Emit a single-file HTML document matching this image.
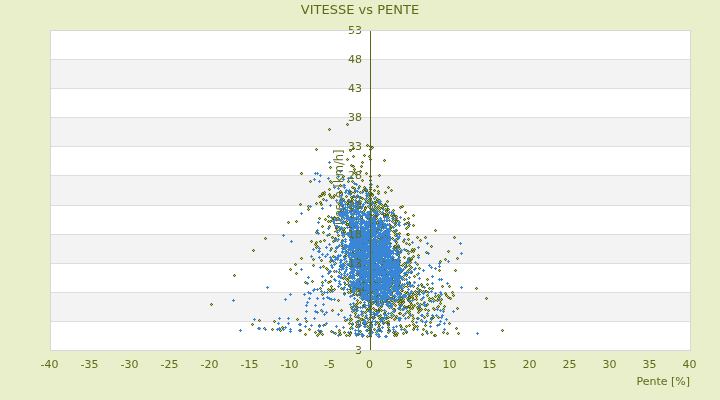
<!DOCTYPE html>
<html><head><meta charset="utf-8"><title>VITESSE vs PENTE</title>
<style>html,body{margin:0;padding:0;background:#e9efcb;width:720px;height:400px;overflow:hidden}</style>
</head><body>
<svg width="720" height="400" viewBox="0 0 720 400" style="display:block">
<rect x="0" y="0" width="720" height="400" fill="#e9efcb"/><rect x="50" y="30" width="640" height="29" fill="#ffffff"/><rect x="50" y="59" width="640" height="29" fill="#f3f3f3"/><rect x="50" y="88" width="640" height="29" fill="#ffffff"/><rect x="50" y="117" width="640" height="29" fill="#f3f3f3"/><rect x="50" y="146" width="640" height="29" fill="#ffffff"/><rect x="50" y="175" width="640" height="30" fill="#f3f3f3"/><rect x="50" y="205" width="640" height="29" fill="#ffffff"/><rect x="50" y="234" width="640" height="29" fill="#f3f3f3"/><rect x="50" y="263" width="640" height="29" fill="#ffffff"/><rect x="50" y="292" width="640" height="29" fill="#f3f3f3"/><rect x="50" y="321" width="640" height="29" fill="#ffffff"/><rect x="50" y="59" width="640" height="1" fill="#dedede"/><rect x="50" y="88" width="640" height="1" fill="#dedede"/><rect x="50" y="117" width="640" height="1" fill="#dedede"/><rect x="50" y="146" width="640" height="1" fill="#dedede"/><rect x="50" y="175" width="640" height="1" fill="#dedede"/><rect x="50" y="205" width="640" height="1" fill="#dedede"/><rect x="50" y="234" width="640" height="1" fill="#dedede"/><rect x="50" y="263" width="640" height="1" fill="#dedede"/><rect x="50" y="292" width="640" height="1" fill="#dedede"/><rect x="50" y="321" width="640" height="1" fill="#dedede"/><text transform="translate(343,191) rotate(-90)" text-anchor="middle" font-family="DejaVu Sans, sans-serif" font-size="11.5" fill="#5f6a17">Vitesse [km/h]</text><defs>
<marker id="mb" markerUnits="userSpaceOnUse" markerWidth="3" markerHeight="3" viewBox="0 0 3 3" refX="1.5" refY="1.5" orient="0" overflow="visible">
<path d="M0 1h3v1h-3zM1 0h1v3h-1z" fill="#3a86d6"/></marker>
<marker id="mo" markerUnits="userSpaceOnUse" markerWidth="3" markerHeight="3" viewBox="0 0 3 3" refX="1.5" refY="1.5" orient="0" overflow="visible">
<path d="M0 0h1v1h-1zM2 0h1v1h-1zM0 2h1v1h-1zM2 2h1v1h-1z" fill="#56620f" fill-opacity="0.15"/><path d="M0 1h1v1h-1zM2 1h1v1h-1zM1 0h1v1h-1zM1 2h1v1h-1z" fill="#56620f"/><path d="M1 1h1v1h-1z" fill="#bcd266"/></marker>
</defs><path d="M388.5 327.5 370.5 231.5 368.5 295.5 343.5 211.5 371.5 275.5 367.5 322.5 364.5 297.5 363.5 248.5 371.5 237.5 370.5 324.5 369.5 253.5 358.5 244.5 350.5 258.5 370.5 242.5 377.5 295.5 282.5 327.5 422.5 286.5 385.5 314.5 412.5 315.5 391.5 252.5 381.5 288.5 390.5 274.5 439.5 296.5 367.5 279.5 381.5 253.5 365.5 237.5 211.5 304.5 382.5 240.5 350.5 318.5 414.5 282.5 338.5 300.5 380.5 208.5 370.5 264.5 385.5 247.5 398.5 295.5 379.5 211.5 368.5 240.5 355.5 243.5 355.5 308.5 372.5 268.5 370.5 254.5 357.5 307.5 371.5 259.5 343.5 208.5 364.5 249.5 417.5 264.5 389.5 273.5 396.5 250.5 354.5 264.5 412.5 297.5 420.5 290.5 391.5 215.5 382.5 320.5 354.5 240.5 388.5 296.5 365.5 249.5 376.5 299.5 351.5 220.5 340.5 185.5 363.5 234.5 346.5 335.5 438.5 306.5 413.5 251.5 417.5 237.5 356.5 326.5 351.5 201.5 379.5 330.5 352.5 181.5 370.5 222.5 370.5 234.5 404.5 329.5 370.5 232.5 337.5 240.5 397.5 333.5 362.5 274.5 409.5 313.5 346.5 224.5 363.5 190.5 342.5 232.5 358.5 282.5 365.5 223.5 407.5 298.5 386.5 322.5 346.5 251.5 387.5 201.5 413.5 225.5 351.5 241.5 405.5 292.5 354.5 241.5 427.5 279.5 370.5 149.5 372.5 252.5 353.5 221.5 408.5 226.5 397.5 260.5 361.5 285.5 376.5 223.5 365.5 227.5 391.5 279.5 344.5 216.5 362.5 263.5 345.5 233.5 375.5 223.5 379.5 325.5 362.5 249.5 381.5 245.5 399.5 302.5 379.5 175.5 330.5 261.5 418.5 255.5 362.5 287.5 409.5 325.5 308.5 209.5 368.5 292.5 363.5 227.5 350.5 230.5 370.5 296.5 361.5 218.5 449.5 286.5 353.5 231.5 374.5 252.5 379.5 246.5 321.5 195.5 367.5 246.5 361.5 222.5 374.5 221.5 371.5 297.5 352.5 239.5 386.5 265.5 324.5 194.5 408.5 222.5 374.5 248.5 386.5 239.5 385.5 227.5 371.5 272.5 365.5 207.5 351.5 206.5 420.5 240.5 321.5 260.5 434.5 300.5 382.5 236.5 329.5 234.5 380.5 319.5 388.5 323.5 368.5 239.5 336.5 228.5 349.5 249.5 330.5 291.5 365.5 323.5 374.5 220.5 388.5 290.5 312.5 281.5 376.5 229.5 417.5 326.5 375.5 267.5 394.5 273.5 391.5 258.5 409.5 244.5 388.5 280.5 377.5 243.5 321.5 204.5 354.5 284.5 385.5 214.5 388.5 297.5 370.5 291.5 378.5 191.5 350.5 286.5 324.5 192.5 370.5 336.5 351.5 257.5 383.5 283.5 355.5 227.5 382.5 207.5 380.5 295.5 391.5 285.5 386.5 300.5 440.5 261.5 367.5 336.5 356.5 257.5 353.5 287.5 370.5 243.5 352.5 260.5 370.5 193.5 387.5 251.5 383.5 295.5 370.5 202.5 385.5 266.5 328.5 216.5 390.5 277.5 394.5 215.5 386.5 292.5 381.5 248.5 370.5 222.5 367.5 288.5 373.5 260.5 378.5 334.5 386.5 267.5 353.5 238.5 352.5 324.5 350.5 231.5 353.5 241.5 372.5 271.5 370.5 271.5 411.5 259.5 343.5 176.5 335.5 263.5 457.5 258.5 378.5 305.5 343.5 236.5 422.5 292.5 353.5 286.5 388.5 213.5 374.5 314.5 398.5 246.5 341.5 288.5 365.5 247.5 410.5 308.5 373.5 318.5 352.5 288.5 383.5 259.5 360.5 293.5 368.5 250.5 370.5 234.5 381.5 247.5 413.5 294.5 370.5 242.5 370.5 275.5 351.5 229.5 366.5 173.5 367.5 239.5 383.5 273.5 378.5 310.5 396.5 216.5 378.5 224.5 380.5 220.5 377.5 302.5 380.5 236.5 392.5 262.5 382.5 275.5 328.5 221.5 351.5 260.5 377.5 284.5 409.5 258.5 369.5 265.5 391.5 227.5 404.5 219.5 396.5 246.5 360.5 297.5 353.5 214.5 402.5 277.5 365.5 208.5 372.5 265.5 345.5 284.5 370.5 297.5 362.5 253.5 367.5 290.5 390.5 230.5 399.5 299.5 326.5 268.5 380.5 317.5 359.5 245.5 376.5 201.5 350.5 202.5 333.5 241.5 300.5 204.5 353.5 260.5 389.5 261.5 384.5 238.5 353.5 237.5 377.5 207.5 379.5 254.5 343.5 229.5 319.5 333.5 452.5 292.5 370.5 307.5 360.5 280.5 373.5 308.5 361.5 319.5 398.5 285.5 359.5 263.5 332.5 237.5 372.5 269.5 320.5 202.5 350.5 289.5 354.5 224.5 378.5 273.5 364.5 238.5 356.5 259.5 419.5 268.5 359.5 186.5 416.5 299.5 370.5 279.5 351.5 220.5 374.5 268.5 370.5 233.5 356.5 205.5 400.5 309.5 354.5 223.5 439.5 270.5 383.5 243.5 401.5 271.5 409.5 296.5 417.5 288.5 391.5 260.5 418.5 312.5 346.5 221.5 368.5 253.5 403.5 301.5 412.5 285.5 323.5 266.5 399.5 287.5 345.5 202.5 435.5 230.5 362.5 289.5 351.5 259.5 443.5 332.5 355.5 316.5 445.5 259.5 370.5 240.5 399.5 248.5 352.5 238.5 382.5 304.5 411.5 304.5 371.5 289.5 363.5 291.5 385.5 231.5 366.5 237.5 334.5 217.5 369.5 225.5 351.5 261.5 350.5 281.5 352.5 187.5 369.5 296.5 388.5 233.5 296.5 273.5 385.5 311.5 361.5 276.5 383.5 243.5 387.5 269.5 370.5 285.5 351.5 202.5 363.5 269.5 396.5 335.5 396.5 283.5 407.5 283.5 325.5 219.5 382.5 272.5 361.5 282.5 357.5 206.5 386.5 274.5 348.5 181.5 378.5 254.5 359.5 280.5 364.5 271.5 407.5 234.5 363.5 247.5 334.5 271.5 342.5 267.5 399.5 265.5 354.5 283.5 362.5 282.5 388.5 302.5 370.5 270.5 382.5 263.5 369.5 241.5 370.5 234.5 381.5 283.5 366.5 271.5 376.5 230.5 363.5 248.5 381.5 287.5 370.5 285.5 354.5 283.5 358.5 250.5 382.5 265.5 361.5 254.5 392.5 270.5 393.5 298.5 370.5 276.5 454.5 237.5 351.5 319.5 373.5 291.5 399.5 260.5 364.5 321.5 396.5 316.5 394.5 278.5 355.5 257.5 376.5 292.5 369.5 201.5 448.5 297.5 408.5 234.5 391.5 267.5 344.5 228.5 381.5 268.5 363.5 273.5 381.5 297.5 381.5 303.5 382.5 243.5 389.5 307.5 388.5 330.5 378.5 220.5 364.5 290.5 354.5 172.5 407.5 286.5 376.5 284.5 347.5 124.5 394.5 335.5 401.5 327.5 353.5 251.5 372.5 317.5 393.5 289.5 354.5 188.5 385.5 255.5 401.5 297.5 350.5 263.5 414.5 305.5 334.5 195.5 356.5 304.5 356.5 263.5 397.5 250.5 370.5 269.5 331.5 286.5 370.5 305.5 382.5 280.5 397.5 251.5 399.5 283.5 333.5 218.5 372.5 194.5 394.5 299.5 377.5 299.5 351.5 267.5 453.5 295.5 363.5 220.5 358.5 245.5 376.5 218.5 355.5 290.5 346.5 190.5 390.5 281.5 390.5 243.5 350.5 292.5 385.5 204.5 384.5 290.5 394.5 246.5 369.5 299.5 375.5 249.5 370.5 266.5 356.5 310.5 403.5 241.5 362.5 252.5 373.5 223.5 362.5 198.5 381.5 292.5 397.5 276.5 315.5 332.5 370.5 256.5 370.5 236.5 367.5 326.5 363.5 312.5 411.5 258.5 359.5 243.5 288.5 222.5 374.5 198.5 364.5 241.5 356.5 249.5 401.5 298.5 390.5 301.5 383.5 262.5 353.5 285.5 323.5 199.5 379.5 221.5 359.5 242.5 359.5 235.5 380.5 249.5 379.5 249.5 370.5 284.5 437.5 307.5 356.5 233.5 405.5 267.5 404.5 306.5 313.5 265.5 376.5 216.5 354.5 247.5 359.5 290.5 378.5 285.5 383.5 250.5 385.5 209.5 386.5 211.5 502.5 330.5 370.5 208.5 410.5 308.5 322.5 226.5 392.5 290.5 421.5 309.5 329.5 129.5 341.5 211.5 367.5 250.5 372.5 205.5 388.5 266.5 408.5 259.5 423.5 304.5 362.5 319.5 383.5 320.5 359.5 250.5 367.5 269.5 427.5 315.5 394.5 309.5 367.5 298.5 370.5 176.5 376.5 210.5 389.5 243.5 408.5 270.5 401.5 250.5 342.5 205.5 413.5 256.5 384.5 271.5 370.5 306.5 370.5 247.5 319.5 325.5 396.5 220.5 376.5 245.5 365.5 269.5 372.5 252.5 364.5 210.5 363.5 252.5 378.5 202.5 411.5 251.5 373.5 278.5 361.5 259.5 374.5 250.5 354.5 294.5 408.5 253.5 341.5 221.5 366.5 191.5 373.5 269.5 369.5 307.5 411.5 272.5 372.5 240.5 355.5 239.5 438.5 317.5 370.5 216.5 394.5 232.5 389.5 224.5 399.5 304.5 399.5 260.5 371.5 249.5 348.5 200.5 367.5 235.5 383.5 291.5 383.5 293.5 403.5 333.5 394.5 219.5 386.5 293.5 364.5 289.5 403.5 315.5 352.5 216.5 396.5 264.5 399.5 282.5 378.5 265.5 377.5 284.5 354.5 260.5 380.5 315.5 398.5 255.5 364.5 187.5 348.5 224.5 353.5 286.5 345.5 276.5 360.5 286.5 351.5 263.5 399.5 287.5 397.5 268.5 370.5 284.5 390.5 260.5 352.5 267.5 365.5 236.5 365.5 251.5 359.5 232.5 390.5 269.5 353.5 225.5 434.5 309.5 382.5 288.5 387.5 261.5 356.5 257.5 385.5 276.5 383.5 224.5 416.5 296.5 352.5 256.5 415.5 326.5 357.5 256.5 343.5 208.5 370.5 232.5 387.5 209.5 353.5 166.5 409.5 307.5 411.5 296.5 370.5 286.5 372.5 244.5 352.5 265.5 409.5 282.5 399.5 262.5 350.5 253.5 353.5 253.5 367.5 202.5 370.5 297.5 377.5 255.5 340.5 334.5 407.5 292.5 408.5 218.5 348.5 204.5 385.5 299.5 378.5 240.5 352.5 251.5 300.5 330.5 344.5 256.5 429.5 300.5 378.5 227.5 370.5 214.5 382.5 295.5 348.5 205.5 425.5 325.5 353.5 148.5 448.5 251.5 441.5 299.5 382.5 302.5 424.5 302.5 351.5 282.5 392.5 261.5 359.5 294.5 341.5 193.5 361.5 221.5 359.5 247.5 386.5 279.5 370.5 264.5 370.5 184.5 407.5 311.5 360.5 272.5 359.5 257.5 370.5 259.5 370.5 298.5 365.5 282.5 417.5 274.5 370.5 237.5 371.5 299.5 389.5 258.5 388.5 229.5 370.5 221.5 367.5 309.5 386.5 318.5 383.5 268.5 370.5 261.5 360.5 302.5 364.5 268.5 380.5 298.5 352.5 243.5 380.5 240.5 363.5 258.5 356.5 238.5 361.5 248.5 407.5 282.5 372.5 195.5 376.5 215.5 382.5 287.5 399.5 276.5 374.5 214.5 363.5 211.5 404.5 279.5 392.5 304.5 411.5 304.5 370.5 180.5 362.5 284.5 370.5 250.5 370.5 329.5 370.5 271.5 392.5 263.5 343.5 248.5 309.5 329.5 362.5 264.5 361.5 253.5 369.5 246.5 370.5 146.5 373.5 287.5 370.5 243.5 380.5 286.5 361.5 272.5 374.5 282.5 384.5 239.5 377.5 322.5 352.5 244.5 338.5 218.5 259.5 320.5 350.5 193.5 387.5 289.5 331.5 260.5 374.5 329.5 365.5 266.5 382.5 226.5 370.5 273.5 381.5 291.5 352.5 202.5 413.5 215.5 348.5 292.5 385.5 235.5 370.5 311.5 411.5 267.5 374.5 208.5 378.5 229.5 370.5 281.5 381.5 291.5 440.5 300.5 392.5 297.5 409.5 311.5 362.5 180.5 388.5 286.5 378.5 323.5 370.5 248.5 264.5 328.5 431.5 246.5 400.5 252.5 381.5 306.5 370.5 277.5 316.5 242.5 370.5 192.5 365.5 286.5 360.5 218.5 385.5 234.5 368.5 319.5 347.5 215.5 368.5 196.5 349.5 323.5 430.5 322.5 370.5 195.5 352.5 311.5 348.5 200.5 357.5 256.5 369.5 222.5 354.5 265.5 340.5 266.5 412.5 321.5 412.5 308.5 368.5 294.5 387.5 283.5 375.5 324.5 351.5 251.5 383.5 206.5 344.5 231.5 370.5 230.5 350.5 226.5 387.5 234.5 391.5 276.5 378.5 226.5 383.5 263.5 346.5 252.5 401.5 270.5 351.5 253.5 397.5 285.5 387.5 250.5 328.5 289.5 395.5 271.5 360.5 257.5 338.5 235.5 351.5 214.5 372.5 287.5 339.5 272.5 361.5 278.5 427.5 295.5 352.5 269.5 400.5 293.5 413.5 318.5 409.5 259.5 350.5 227.5 354.5 269.5 386.5 241.5 432.5 298.5 367.5 214.5 370.5 226.5 406.5 228.5 301.5 258.5 382.5 236.5 417.5 303.5 400.5 305.5 379.5 300.5 354.5 219.5 356.5 240.5 370.5 193.5 486.5 298.5 370.5 283.5 340.5 191.5 363.5 295.5 392.5 280.5 374.5 190.5 383.5 255.5 370.5 226.5 392.5 300.5 388.5 324.5 339.5 227.5 370.5 187.5 374.5 274.5 385.5 192.5 363.5 249.5 398.5 276.5 384.5 232.5 366.5 265.5 402.5 286.5 391.5 317.5 316.5 203.5 371.5 245.5 388.5 332.5 381.5 310.5 363.5 323.5 350.5 254.5 388.5 278.5 363.5 213.5 395.5 223.5 362.5 283.5 361.5 250.5 384.5 274.5 383.5 214.5 376.5 259.5 380.5 267.5 379.5 302.5 362.5 315.5 364.5 226.5 384.5 214.5 358.5 317.5 406.5 263.5 362.5 235.5 389.5 265.5 364.5 261.5 360.5 192.5 365.5 214.5 392.5 277.5 414.5 276.5 413.5 294.5 455.5 270.5 342.5 216.5 362.5 267.5 372.5 147.5 356.5 264.5 332.5 237.5 390.5 294.5 395.5 281.5 381.5 241.5 371.5 236.5 396.5 221.5 351.5 307.5 393.5 297.5 382.5 227.5 389.5 279.5 348.5 281.5 355.5 262.5 375.5 236.5 370.5 302.5 343.5 199.5 429.5 288.5 412.5 315.5 372.5 225.5 391.5 271.5 408.5 300.5 373.5 284.5 358.5 261.5 364.5 213.5 385.5 255.5 295.5 264.5 378.5 282.5 440.5 303.5 350.5 320.5 379.5 239.5 431.5 332.5 389.5 266.5 370.5 240.5 381.5 306.5 395.5 235.5 353.5 226.5 357.5 238.5 347.5 159.5 370.5 290.5 360.5 281.5 339.5 330.5 352.5 210.5 361.5 251.5 350.5 217.5 409.5 298.5 362.5 242.5 361.5 250.5 399.5 313.5 333.5 197.5 367.5 296.5 404.5 257.5 383.5 253.5 370.5 226.5 393.5 231.5 379.5 200.5 387.5 257.5 331.5 248.5 374.5 212.5 425.5 237.5 316.5 247.5 376.5 297.5 426.5 252.5 413.5 286.5 331.5 289.5 384.5 284.5 382.5 276.5 297.5 319.5 354.5 304.5 330.5 167.5 341.5 198.5 344.5 248.5 375.5 207.5 301.5 173.5 396.5 242.5 382.5 248.5 377.5 186.5 384.5 262.5 369.5 156.5 335.5 251.5 355.5 224.5 385.5 301.5 330.5 281.5 372.5 278.5 396.5 283.5 354.5 234.5 370.5 254.5 350.5 227.5 313.5 259.5 321.5 310.5 364.5 229.5 384.5 250.5 317.5 246.5 355.5 226.5 402.5 265.5 398.5 281.5 332.5 220.5 370.5 238.5 371.5 324.5 403.5 285.5 363.5 229.5 367.5 260.5 353.5 196.5 370.5 220.5 362.5 292.5 329.5 189.5 389.5 246.5 408.5 294.5 384.5 216.5 358.5 234.5 370.5 233.5 375.5 204.5 305.5 282.5 354.5 221.5 363.5 253.5 348.5 284.5 370.5 265.5 392.5 291.5 358.5 281.5 355.5 313.5 383.5 323.5 434.5 335.5 396.5 239.5 370.5 272.5 374.5 251.5 375.5 254.5 396.5 218.5 388.5 242.5 392.5 221.5 386.5 237.5 320.5 241.5 398.5 277.5 353.5 226.5 252.5 324.5 370.5 243.5 274.5 321.5 409.5 265.5 351.5 234.5 388.5 288.5 359.5 291.5 369.5 232.5 356.5 218.5 368.5 237.5 376.5 230.5 360.5 203.5 322.5 282.5 290.5 269.5 351.5 276.5 377.5 272.5 332.5 310.5 328.5 282.5 330.5 181.5 370.5 298.5 370.5 270.5 382.5 279.5 316.5 149.5 370.5 256.5 393.5 301.5 333.5 256.5 394.5 319.5 330.5 221.5 374.5 284.5 365.5 324.5 378.5 272.5 372.5 262.5 374.5 216.5 381.5 240.5 317.5 335.5 376.5 310.5 383.5 294.5 362.5 296.5 400.5 313.5 425.5 291.5 378.5 256.5 476.5 288.5 361.5 238.5 384.5 313.5 369.5 237.5 370.5 330.5 358.5 255.5 358.5 262.5 358.5 241.5 320.5 288.5 360.5 267.5 370.5 250.5 388.5 290.5 356.5 326.5 360.5 331.5 349.5 335.5 406.5 326.5 388.5 251.5 381.5 300.5 383.5 272.5 352.5 241.5 358.5 334.5 327.5 269.5 386.5 237.5 422.5 334.5 372.5 251.5 412.5 292.5 391.5 262.5 353.5 232.5 364.5 239.5 407.5 293.5 336.5 227.5 360.5 197.5 392.5 271.5 362.5 299.5 368.5 206.5 395.5 233.5 379.5 256.5 393.5 315.5 391.5 190.5 458.5 333.5 377.5 294.5 370.5 214.5 426.5 291.5 370.5 202.5 360.5 269.5 366.5 256.5 380.5 274.5 370.5 224.5 376.5 276.5 370.5 299.5 373.5 275.5 360.5 274.5 377.5 221.5 365.5 262.5 402.5 290.5 356.5 246.5 363.5 220.5 388.5 187.5 403.5 299.5 367.5 243.5 379.5 283.5 388.5 256.5 395.5 260.5 383.5 276.5 386.5 299.5 395.5 262.5 364.5 280.5 364.5 288.5 380.5 251.5 437.5 300.5 438.5 298.5 384.5 244.5 352.5 212.5 361.5 166.5 363.5 265.5 409.5 283.5 379.5 318.5 386.5 280.5 385.5 289.5 351.5 228.5 399.5 300.5 392.5 290.5 388.5 298.5 376.5 266.5 387.5 209.5 390.5 286.5 344.5 210.5 346.5 196.5 366.5 223.5 379.5 239.5 356.5 258.5 356.5 221.5 343.5 278.5 352.5 199.5 280.5 330.5 382.5 278.5 316.5 232.5 375.5 242.5 372.5 235.5 370.5 292.5 272.5 329.5 350.5 332.5 359.5 257.5 421.5 320.5 381.5 301.5 357.5 280.5 306.5 321.5 369.5 328.5 379.5 235.5 376.5 297.5 388.5 317.5 376.5 214.5 433.5 317.5 379.5 282.5 395.5 272.5 319.5 218.5 335.5 333.5 367.5 330.5 370.5 307.5 387.5 218.5 348.5 219.5 373.5 290.5 358.5 326.5 389.5 330.5 392.5 258.5 370.5 236.5 389.5 284.5 412.5 249.5 375.5 229.5 408.5 317.5 308.5 206.5 367.5 145.5 375.5 283.5 379.5 254.5 392.5 285.5 418.5 292.5 381.5 237.5 383.5 300.5 356.5 174.5 373.5 231.5 362.5 246.5 334.5 289.5 370.5 293.5 342.5 233.5 371.5 224.5 381.5 258.5 394.5 286.5 395.5 318.5 383.5 264.5 368.5 297.5 370.5 292.5 357.5 286.5 358.5 227.5 370.5 204.5 395.5 289.5 356.5 203.5 346.5 255.5 373.5 215.5 391.5 289.5 409.5 260.5 362.5 254.5 386.5 252.5 356.5 289.5 393.5 309.5 386.5 245.5 370.5 290.5 382.5 250.5 370.5 260.5 352.5 209.5 391.5 287.5 444.5 306.5 370.5 272.5 375.5 310.5 382.5 233.5 355.5 210.5 358.5 243.5 409.5 269.5 373.5 278.5 358.5 256.5 341.5 245.5 335.5 238.5 376.5 260.5 386.5 231.5 392.5 261.5 362.5 222.5 380.5 245.5 398.5 300.5 379.5 329.5 387.5 252.5 351.5 237.5 378.5 206.5 406.5 250.5 311.5 241.5 356.5 306.5 367.5 271.5 420.5 304.5 368.5 262.5 358.5 279.5 362.5 266.5 385.5 296.5 353.5 286.5 350.5 285.5 409.5 297.5 391.5 313.5 364.5 226.5 389.5 292.5 367.5 274.5 367.5 259.5 353.5 156.5 369.5 266.5 370.5 220.5 367.5 270.5 391.5 283.5 370.5 317.5 366.5 237.5 376.5 274.5 391.5 274.5 386.5 285.5 367.5 288.5 364.5 281.5 350.5 229.5 386.5 291.5 361.5 248.5 427.5 284.5 373.5 210.5 363.5 251.5 366.5 222.5 376.5 304.5 379.5 256.5 363.5 305.5 382.5 263.5 388.5 239.5 368.5 202.5 392.5 259.5 234.5 275.5 370.5 287.5 376.5 332.5 351.5 197.5 370.5 225.5 396.5 242.5 370.5 203.5 324.5 240.5 370.5 268.5 405.5 330.5 376.5 255.5 443.5 309.5 385.5 236.5 384.5 282.5 380.5 228.5 393.5 265.5 428.5 310.5 323.5 232.5 361.5 284.5 442.5 286.5 371.5 201.5 341.5 204.5 296.5 221.5 362.5 244.5 344.5 277.5 401.5 301.5 341.5 214.5 406.5 274.5 373.5 265.5 359.5 231.5 370.5 198.5 329.5 194.5 404.5 263.5 400.5 301.5 377.5 292.5 341.5 310.5 406.5 266.5 399.5 233.5 370.5 322.5 356.5 241.5 367.5 299.5 331.5 197.5 395.5 305.5 381.5 204.5 398.5 221.5 365.5 189.5 370.5 208.5 367.5 310.5 393.5 215.5 362.5 234.5 373.5 232.5 378.5 239.5 431.5 318.5 369.5 281.5 383.5 275.5 365.5 199.5 365.5 266.5 360.5 247.5 375.5 256.5 371.5 285.5 359.5 288.5 357.5 300.5 381.5 261.5 446.5 295.5 382.5 318.5 369.5 326.5 393.5 303.5 376.5 288.5 381.5 239.5 450.5 298.5 331.5 276.5 370.5 309.5 388.5 217.5 377.5 209.5 369.5 296.5 385.5 256.5 342.5 240.5 389.5 239.5 369.5 303.5 370.5 289.5 350.5 276.5 362.5 254.5 372.5 272.5 380.5 286.5 414.5 249.5 351.5 284.5 384.5 272.5 358.5 243.5 379.5 245.5 356.5 197.5 368.5 235.5 366.5 190.5 368.5 263.5 349.5 191.5 315.5 244.5 394.5 277.5 319.5 196.5 400.5 325.5 382.5 263.5 395.5 225.5 365.5 322.5 347.5 202.5 371.5 210.5 407.5 271.5 355.5 265.5 370.5 247.5 383.5 296.5 373.5 221.5 370.5 249.5 406.5 223.5 351.5 287.5 414.5 327.5 351.5 327.5 344.5 332.5 408.5 306.5 358.5 244.5 344.5 228.5 418.5 289.5 397.5 276.5 354.5 236.5 395.5 333.5 445.5 293.5 383.5 254.5 363.5 234.5 364.5 155.5 391.5 307.5 424.5 317.5 301.5 173.5 417.5 307.5 386.5 277.5 377.5 292.5 369.5 264.5 375.5 278.5 357.5 250.5 349.5 265.5 363.5 278.5 359.5 231.5 354.5 192.5 389.5 254.5 361.5 281.5 389.5 231.5 377.5 199.5 360.5 201.5 363.5 268.5 357.5 235.5 375.5 236.5 390.5 298.5 421.5 284.5 378.5 327.5 386.5 245.5 354.5 225.5 355.5 265.5 381.5 237.5 418.5 309.5 362.5 162.5 370.5 273.5 405.5 307.5 382.5 212.5 397.5 301.5 404.5 286.5 372.5 303.5 393.5 332.5 377.5 237.5 373.5 243.5 355.5 213.5 439.5 296.5 352.5 237.5 362.5 228.5 389.5 271.5 421.5 299.5 365.5 275.5 397.5 267.5 387.5 282.5 371.5 254.5 438.5 295.5 374.5 275.5 367.5 217.5 355.5 281.5 356.5 322.5 363.5 255.5 375.5 264.5 340.5 220.5 391.5 293.5 387.5 274.5 378.5 193.5 342.5 231.5 352.5 233.5 305.5 334.5 370.5 317.5 388.5 321.5 449.5 323.5 427.5 304.5 396.5 230.5 369.5 192.5 359.5 332.5 401.5 304.5 409.5 306.5 355.5 265.5 397.5 286.5 391.5 271.5 346.5 279.5 380.5 238.5 387.5 290.5 372.5 263.5 392.5 262.5 370.5 276.5 423.5 291.5 417.5 318.5 395.5 281.5 351.5 165.5 394.5 270.5 355.5 313.5 364.5 235.5 350.5 150.5 396.5 245.5 379.5 316.5 374.5 265.5 374.5 223.5 426.5 305.5 359.5 220.5 394.5 260.5 364.5 305.5 411.5 296.5 367.5 281.5 351.5 238.5 342.5 214.5 357.5 273.5 322.5 334.5 393.5 276.5 374.5 301.5 369.5 333.5 386.5 268.5 370.5 159.5 360.5 245.5 406.5 332.5 368.5 300.5 363.5 236.5 386.5 276.5 397.5 289.5 367.5 201.5 330.5 196.5 392.5 238.5 377.5 222.5 357.5 202.5 350.5 237.5 351.5 289.5 379.5 308.5 369.5 287.5 370.5 258.5 415.5 291.5 381.5 227.5 392.5 288.5 382.5 248.5 348.5 278.5 378.5 230.5 381.5 244.5 423.5 329.5 394.5 248.5 353.5 287.5 336.5 258.5 345.5 320.5 368.5 246.5 360.5 171.5 382.5 287.5 363.5 244.5 347.5 224.5 372.5 303.5 368.5 222.5 388.5 209.5 355.5 243.5 360.5 227.5 376.5 214.5 342.5 218.5 370.5 211.5 371.5 297.5 406.5 275.5 383.5 221.5 344.5 293.5 397.5 263.5 370.5 215.5 320.5 331.5 378.5 311.5 391.5 266.5 456.5 328.5 403.5 302.5 351.5 269.5 375.5 240.5 357.5 196.5 372.5 265.5 410.5 262.5 413.5 324.5 353.5 247.5 388.5 248.5 361.5 226.5 385.5 205.5 416.5 294.5 384.5 160.5 365.5 312.5 425.5 309.5 349.5 223.5 350.5 211.5 307.5 283.5 413.5 299.5 374.5 202.5 331.5 331.5 353.5 225.5 351.5 192.5 400.5 207.5 398.5 274.5 406.5 243.5 399.5 282.5 372.5 303.5 388.5 305.5 358.5 243.5 310.5 181.5 356.5 212.5 380.5 267.5 361.5 217.5 337.5 218.5 373.5 295.5 357.5 303.5 372.5 275.5 339.5 332.5 383.5 269.5 366.5 233.5 357.5 252.5 386.5 282.5 325.5 324.5 374.5 238.5 376.5 275.5 365.5 317.5 339.5 204.5 419.5 307.5 396.5 278.5 350.5 328.5 361.5 319.5 376.5 269.5 377.5 236.5 402.5 206.5 386.5 250.5 379.5 275.5 432.5 288.5 368.5 200.5 406.5 307.5 429.5 298.5 413.5 329.5 393.5 210.5 388.5 256.5 387.5 215.5 379.5 279.5 370.5 284.5 394.5 310.5 381.5 213.5 388.5 281.5 410.5 302.5 399.5 273.5 343.5 246.5 354.5 262.5 382.5 271.5 426.5 331.5 377.5 283.5 370.5 293.5 354.5 169.5 363.5 274.5 372.5 290.5 447.5 333.5 457.5 308.5 376.5 285.5 371.5 221.5 393.5 275.5 350.5 261.5 405.5 212.5 408.5 239.5 371.5 295.5 370.5 211.5 364.5 241.5 357.5 275.5 365.5 234.5 377.5 292.5 329.5 226.5 359.5 207.5 361.5 278.5 435.5 335.5 334.5 218.5 386.5 240.5 355.5 225.5 265.5 238.5 322.5 294.5 370.5 330.5 370.5 218.5 385.5 237.5 383.5 271.5 420.5 310.5 382.5 238.5 379.5 248.5 370.5 226.5 331.5 182.5 374.5 317.5 395.5 266.5 370.5 189.5 374.5 293.5 381.5 240.5 375.5 260.5 435.5 296.5 344.5 263.5 384.5 264.5 370.5 227.5 370.5 258.5 389.5 258.5 322.5 193.5 360.5 255.5 397.5 268.5 396.5 239.5 386.5 252.5 363.5 267.5 391.5 226.5 382.5 303.5 370.5 270.5 389.5 284.5 363.5 248.5 354.5 225.5 393.5 216.5 376.5 266.5 359.5 207.5 387.5 262.5 350.5 226.5 350.5 333.5 373.5 260.5 413.5 306.5 395.5 246.5 387.5 216.5 377.5 289.5 401.5 290.5 433.5 308.5 385.5 271.5 377.5 271.5 253.5 250.5 380.5 286.5 259.5 328.5" fill="none" stroke="none" marker-start="url(#mo)" marker-mid="url(#mo)" marker-end="url(#mo)"/><path d="M360.5 269.5 355.5 223.5 361.5 289.5 370.5 235.5 379.5 226.5 412.5 300.5 350.5 249.5 360.5 273.5 285.5 299.5 355.5 203.5 390.5 271.5 384.5 271.5 390.5 273.5 383.5 253.5 370.5 244.5 383.5 250.5 357.5 251.5 393.5 257.5 379.5 240.5 385.5 299.5 370.5 334.5 370.5 232.5 343.5 222.5 364.5 246.5 370.5 256.5 395.5 281.5 397.5 279.5 322.5 208.5 391.5 277.5 374.5 287.5 364.5 221.5 376.5 314.5 378.5 273.5 370.5 247.5 372.5 267.5 375.5 232.5 378.5 201.5 379.5 287.5 355.5 258.5 384.5 283.5 350.5 225.5 370.5 217.5 384.5 284.5 374.5 242.5 388.5 272.5 370.5 232.5 370.5 248.5 376.5 254.5 370.5 296.5 342.5 267.5 365.5 270.5 387.5 267.5 353.5 228.5 362.5 249.5 381.5 271.5 375.5 321.5 346.5 245.5 379.5 279.5 354.5 270.5 370.5 280.5 384.5 271.5 394.5 295.5 361.5 252.5 375.5 233.5 370.5 277.5 398.5 318.5 373.5 289.5 371.5 225.5 387.5 259.5 431.5 291.5 394.5 276.5 388.5 277.5 380.5 262.5 355.5 250.5 368.5 262.5 380.5 259.5 367.5 253.5 343.5 268.5 392.5 276.5 332.5 291.5 370.5 269.5 377.5 266.5 389.5 239.5 388.5 275.5 354.5 298.5 353.5 250.5 350.5 223.5 353.5 265.5 365.5 284.5 352.5 261.5 358.5 240.5 428.5 292.5 384.5 310.5 362.5 192.5 358.5 235.5 358.5 207.5 389.5 220.5 380.5 252.5 361.5 296.5 397.5 269.5 380.5 263.5 385.5 277.5 383.5 238.5 350.5 218.5 373.5 257.5 370.5 265.5 419.5 305.5 378.5 284.5 350.5 229.5 371.5 325.5 362.5 284.5 381.5 287.5 338.5 255.5 401.5 329.5 361.5 334.5 359.5 245.5 391.5 306.5 369.5 216.5 345.5 258.5 368.5 298.5 352.5 236.5 390.5 292.5 371.5 265.5 355.5 205.5 386.5 260.5 367.5 246.5 395.5 276.5 368.5 247.5 355.5 263.5 361.5 294.5 391.5 294.5 375.5 232.5 391.5 307.5 396.5 251.5 397.5 280.5 355.5 333.5 380.5 284.5 370.5 266.5 396.5 283.5 377.5 254.5 353.5 234.5 370.5 287.5 352.5 240.5 380.5 258.5 350.5 240.5 353.5 220.5 352.5 214.5 342.5 243.5 345.5 271.5 419.5 306.5 424.5 305.5 360.5 235.5 400.5 276.5 367.5 251.5 391.5 270.5 347.5 252.5 367.5 254.5 363.5 284.5 377.5 312.5 383.5 293.5 373.5 267.5 398.5 262.5 388.5 288.5 369.5 223.5 333.5 261.5 375.5 197.5 370.5 275.5 378.5 248.5 358.5 315.5 360.5 259.5 367.5 289.5 366.5 234.5 370.5 257.5 384.5 231.5 360.5 295.5 374.5 233.5 389.5 244.5 401.5 285.5 379.5 328.5 366.5 217.5 354.5 196.5 371.5 282.5 373.5 261.5 348.5 217.5 370.5 247.5 254.5 319.5 365.5 266.5 279.5 328.5 378.5 281.5 361.5 224.5 353.5 213.5 325.5 256.5 373.5 240.5 383.5 228.5 381.5 260.5 342.5 241.5 400.5 318.5 408.5 294.5 389.5 234.5 386.5 283.5 365.5 237.5 370.5 223.5 383.5 266.5 351.5 253.5 388.5 280.5 383.5 298.5 360.5 270.5 354.5 246.5 371.5 184.5 355.5 248.5 357.5 256.5 360.5 241.5 370.5 259.5 345.5 192.5 370.5 295.5 346.5 247.5 305.5 326.5 338.5 176.5 341.5 242.5 364.5 222.5 394.5 265.5 377.5 284.5 362.5 249.5 340.5 201.5 352.5 243.5 375.5 230.5 370.5 263.5 382.5 297.5 370.5 273.5 338.5 286.5 355.5 250.5 353.5 236.5 375.5 230.5 388.5 325.5 387.5 247.5 381.5 331.5 319.5 257.5 354.5 310.5 352.5 226.5 365.5 249.5 372.5 288.5 388.5 262.5 346.5 215.5 370.5 271.5 318.5 233.5 370.5 260.5 299.5 324.5 371.5 237.5 386.5 288.5 364.5 261.5 366.5 292.5 350.5 220.5 395.5 283.5 370.5 254.5 389.5 234.5 427.5 333.5 380.5 248.5 352.5 234.5 423.5 270.5 357.5 268.5 366.5 239.5 350.5 243.5 346.5 261.5 351.5 214.5 382.5 327.5 327.5 235.5 362.5 260.5 379.5 225.5 399.5 273.5 385.5 299.5 368.5 287.5 364.5 286.5 379.5 266.5 350.5 233.5 358.5 227.5 368.5 225.5 395.5 331.5 336.5 200.5 340.5 277.5 370.5 283.5 350.5 247.5 385.5 262.5 384.5 217.5 376.5 257.5 335.5 240.5 370.5 245.5 367.5 264.5 370.5 256.5 367.5 277.5 372.5 242.5 381.5 288.5 352.5 261.5 358.5 287.5 366.5 315.5 299.5 330.5 373.5 277.5 386.5 262.5 365.5 322.5 370.5 287.5 442.5 315.5 388.5 230.5 383.5 232.5 358.5 254.5 382.5 319.5 402.5 296.5 453.5 311.5 368.5 212.5 290.5 331.5 378.5 233.5 361.5 293.5 381.5 299.5 317.5 298.5 380.5 272.5 365.5 235.5 381.5 230.5 366.5 272.5 369.5 221.5 340.5 260.5 364.5 254.5 373.5 244.5 333.5 221.5 385.5 242.5 370.5 283.5 352.5 221.5 360.5 325.5 385.5 243.5 389.5 228.5 353.5 214.5 383.5 277.5 379.5 244.5 367.5 279.5 386.5 233.5 380.5 235.5 375.5 242.5 385.5 286.5 374.5 258.5 372.5 263.5 400.5 217.5 388.5 251.5 325.5 280.5 347.5 207.5 370.5 295.5 344.5 234.5 390.5 284.5 407.5 262.5 432.5 283.5 350.5 273.5 382.5 293.5 361.5 253.5 360.5 275.5 376.5 241.5 371.5 274.5 391.5 299.5 362.5 245.5 366.5 281.5 380.5 293.5 375.5 291.5 370.5 297.5 385.5 293.5 363.5 258.5 374.5 277.5 368.5 236.5 370.5 230.5 370.5 254.5 378.5 312.5 360.5 282.5 363.5 277.5 366.5 193.5 373.5 289.5 368.5 280.5 355.5 284.5 376.5 258.5 356.5 184.5 396.5 265.5 355.5 236.5 344.5 185.5 369.5 224.5 360.5 211.5 375.5 314.5 375.5 297.5 356.5 241.5 376.5 285.5 373.5 270.5 399.5 257.5 388.5 232.5 370.5 220.5 370.5 289.5 350.5 244.5 381.5 255.5 341.5 205.5 396.5 282.5 354.5 234.5 373.5 286.5 350.5 221.5 394.5 311.5 366.5 239.5 372.5 297.5 372.5 332.5 373.5 222.5 363.5 259.5 398.5 276.5 343.5 221.5 366.5 239.5 391.5 281.5 389.5 242.5 376.5 248.5 370.5 217.5 394.5 287.5 314.5 318.5 370.5 241.5 365.5 243.5 370.5 334.5 388.5 242.5 393.5 274.5 370.5 247.5 348.5 255.5 373.5 279.5 378.5 294.5 342.5 201.5 353.5 277.5 367.5 254.5 358.5 230.5 390.5 250.5 397.5 259.5 363.5 274.5 376.5 245.5 397.5 265.5 385.5 276.5 370.5 241.5 362.5 245.5 403.5 297.5 378.5 257.5 385.5 290.5 381.5 234.5 358.5 321.5 441.5 294.5 370.5 272.5 351.5 282.5 375.5 212.5 361.5 272.5 418.5 247.5 319.5 248.5 423.5 293.5 371.5 242.5 356.5 335.5 388.5 272.5 370.5 241.5 372.5 269.5 328.5 228.5 370.5 250.5 362.5 231.5 358.5 280.5 378.5 269.5 376.5 251.5 380.5 321.5 362.5 261.5 310.5 293.5 381.5 288.5 384.5 301.5 365.5 277.5 278.5 323.5 370.5 287.5 364.5 257.5 345.5 209.5 364.5 234.5 448.5 261.5 370.5 288.5 424.5 287.5 384.5 278.5 390.5 275.5 346.5 211.5 382.5 303.5 424.5 292.5 387.5 287.5 371.5 273.5 374.5 266.5 375.5 293.5 364.5 223.5 356.5 307.5 398.5 273.5 315.5 173.5 375.5 272.5 377.5 331.5 379.5 274.5 379.5 275.5 348.5 193.5 388.5 264.5 371.5 257.5 370.5 272.5 341.5 212.5 381.5 272.5 354.5 284.5 358.5 324.5 348.5 246.5 360.5 232.5 365.5 267.5 363.5 248.5 397.5 267.5 374.5 252.5 370.5 294.5 364.5 239.5 388.5 254.5 387.5 278.5 317.5 230.5 404.5 284.5 398.5 308.5 365.5 299.5 370.5 231.5 370.5 281.5 389.5 286.5 378.5 281.5 379.5 336.5 353.5 247.5 335.5 259.5 365.5 260.5 364.5 229.5 371.5 243.5 376.5 267.5 361.5 287.5 343.5 179.5 396.5 291.5 386.5 270.5 370.5 242.5 363.5 292.5 372.5 255.5 351.5 262.5 397.5 287.5 368.5 238.5 388.5 287.5 418.5 285.5 402.5 288.5 346.5 269.5 365.5 269.5 380.5 296.5 365.5 242.5 374.5 264.5 353.5 265.5 370.5 311.5 383.5 254.5 374.5 299.5 384.5 246.5 365.5 298.5 404.5 273.5 369.5 272.5 380.5 296.5 377.5 280.5 360.5 234.5 381.5 223.5 370.5 333.5 397.5 277.5 362.5 234.5 360.5 291.5 373.5 243.5 436.5 315.5 330.5 205.5 373.5 312.5 353.5 286.5 373.5 278.5 359.5 255.5 353.5 285.5 381.5 262.5 382.5 267.5 377.5 256.5 385.5 277.5 373.5 249.5 389.5 238.5 389.5 264.5 326.5 312.5 387.5 281.5 390.5 252.5 382.5 244.5 346.5 218.5 353.5 306.5 370.5 237.5 362.5 280.5 366.5 245.5 356.5 233.5 364.5 284.5 348.5 253.5 358.5 261.5 376.5 298.5 363.5 266.5 361.5 226.5 389.5 273.5 347.5 215.5 378.5 259.5 383.5 252.5 399.5 320.5 371.5 261.5 397.5 267.5 354.5 269.5 440.5 292.5 283.5 329.5 351.5 177.5 372.5 284.5 356.5 288.5 386.5 315.5 313.5 290.5 377.5 232.5 341.5 216.5 355.5 254.5 375.5 287.5 363.5 255.5 290.5 329.5 366.5 281.5 356.5 225.5 368.5 272.5 370.5 299.5 369.5 291.5 389.5 284.5 351.5 262.5 389.5 251.5 398.5 245.5 385.5 257.5 370.5 258.5 373.5 245.5 311.5 325.5 353.5 224.5 354.5 257.5 368.5 273.5 364.5 254.5 352.5 243.5 388.5 279.5 398.5 291.5 440.5 310.5 336.5 226.5 383.5 275.5 338.5 314.5 370.5 245.5 390.5 270.5 360.5 256.5 322.5 276.5 367.5 251.5 378.5 279.5 378.5 250.5 353.5 254.5 370.5 248.5 403.5 308.5 350.5 234.5 371.5 251.5 375.5 249.5 351.5 263.5 477.5 333.5 361.5 298.5 394.5 267.5 394.5 274.5 353.5 234.5 369.5 280.5 370.5 258.5 374.5 271.5 387.5 252.5 329.5 244.5 379.5 260.5 330.5 271.5 327.5 297.5 340.5 262.5 372.5 263.5 385.5 237.5 341.5 274.5 356.5 259.5 396.5 289.5 386.5 277.5 378.5 227.5 387.5 248.5 387.5 243.5 383.5 265.5 375.5 245.5 383.5 245.5 380.5 281.5 382.5 240.5 384.5 220.5 375.5 236.5 370.5 229.5 383.5 223.5 362.5 292.5 385.5 255.5 374.5 233.5 391.5 251.5 391.5 262.5 370.5 221.5 386.5 287.5 369.5 295.5 425.5 322.5 359.5 200.5 367.5 239.5 370.5 274.5 319.5 181.5 374.5 226.5 364.5 295.5 387.5 239.5 383.5 281.5 354.5 255.5 385.5 256.5 397.5 290.5 329.5 162.5 400.5 294.5 392.5 288.5 373.5 289.5 358.5 288.5 370.5 248.5 378.5 214.5 377.5 214.5 382.5 233.5 379.5 233.5 374.5 253.5 362.5 237.5 362.5 269.5 351.5 239.5 386.5 241.5 339.5 276.5 356.5 283.5 342.5 216.5 370.5 324.5 370.5 263.5 308.5 277.5 354.5 218.5 359.5 197.5 356.5 242.5 398.5 278.5 370.5 262.5 370.5 279.5 356.5 254.5 362.5 244.5 396.5 281.5 375.5 276.5 385.5 240.5 374.5 205.5 383.5 288.5 362.5 307.5 422.5 298.5 423.5 297.5 379.5 227.5 361.5 232.5 375.5 268.5 361.5 267.5 357.5 213.5 354.5 210.5 389.5 237.5 379.5 285.5 361.5 208.5 394.5 290.5 375.5 237.5 344.5 187.5 362.5 220.5 377.5 240.5 341.5 260.5 394.5 262.5 389.5 279.5 400.5 287.5 375.5 259.5 406.5 272.5 380.5 251.5 308.5 292.5 397.5 248.5 366.5 221.5 375.5 258.5 426.5 321.5 368.5 298.5 285.5 327.5 383.5 282.5 391.5 291.5 393.5 287.5 342.5 252.5 376.5 280.5 429.5 265.5 317.5 289.5 373.5 280.5 393.5 299.5 353.5 263.5 370.5 278.5 383.5 251.5 348.5 249.5 406.5 308.5 370.5 268.5 374.5 232.5 360.5 238.5 379.5 246.5 385.5 268.5 387.5 262.5 385.5 264.5 368.5 273.5 378.5 334.5 350.5 304.5 340.5 265.5 369.5 235.5 379.5 274.5 369.5 252.5 393.5 277.5 353.5 223.5 356.5 287.5 367.5 214.5 367.5 246.5 351.5 219.5 358.5 260.5 364.5 213.5 390.5 269.5 357.5 203.5 370.5 245.5 370.5 293.5 389.5 291.5 370.5 244.5 383.5 322.5 360.5 248.5 416.5 322.5 361.5 283.5 397.5 271.5 351.5 240.5 375.5 294.5 385.5 237.5 396.5 299.5 392.5 273.5 370.5 288.5 351.5 261.5 371.5 242.5 360.5 215.5 305.5 318.5 354.5 260.5 381.5 226.5 394.5 260.5 360.5 269.5 403.5 295.5 391.5 272.5 372.5 270.5 356.5 233.5 385.5 285.5 378.5 287.5 360.5 261.5 375.5 259.5 393.5 261.5 318.5 330.5 367.5 298.5 384.5 278.5 370.5 312.5 374.5 262.5 352.5 214.5 404.5 224.5 366.5 232.5 372.5 232.5 347.5 234.5 397.5 272.5 370.5 275.5 361.5 311.5 375.5 286.5 354.5 231.5 355.5 227.5 410.5 286.5 385.5 280.5 393.5 274.5 365.5 262.5 397.5 292.5 338.5 213.5 401.5 278.5 374.5 272.5 388.5 259.5 368.5 242.5 370.5 287.5 360.5 252.5 377.5 259.5 370.5 232.5 358.5 327.5 382.5 247.5 381.5 258.5 369.5 255.5 384.5 298.5 384.5 237.5 365.5 271.5 355.5 232.5 356.5 247.5 372.5 229.5 370.5 226.5 387.5 220.5 384.5 225.5 365.5 263.5 357.5 310.5 354.5 259.5 369.5 286.5 446.5 319.5 356.5 232.5 357.5 211.5 362.5 292.5 378.5 220.5 351.5 266.5 392.5 265.5 375.5 227.5 351.5 237.5 358.5 242.5 363.5 220.5 360.5 255.5 378.5 278.5 394.5 261.5 370.5 233.5 367.5 266.5 370.5 269.5 376.5 273.5 342.5 233.5 366.5 271.5 364.5 239.5 347.5 233.5 385.5 259.5 397.5 259.5 399.5 269.5 365.5 225.5 356.5 236.5 391.5 253.5 372.5 288.5 341.5 277.5 392.5 218.5 385.5 246.5 390.5 257.5 377.5 227.5 304.5 294.5 357.5 236.5 354.5 289.5 393.5 265.5 383.5 283.5 363.5 270.5 370.5 301.5 306.5 305.5 380.5 257.5 346.5 213.5 391.5 212.5 380.5 221.5 382.5 243.5 357.5 230.5 381.5 267.5 321.5 331.5 375.5 221.5 323.5 325.5 370.5 289.5 370.5 276.5 375.5 260.5 352.5 323.5 378.5 305.5 370.5 265.5 361.5 235.5 351.5 203.5 371.5 261.5 393.5 287.5 393.5 273.5 393.5 272.5 389.5 298.5 371.5 232.5 386.5 245.5 375.5 247.5 365.5 268.5 358.5 232.5 370.5 268.5 330.5 257.5 384.5 240.5 385.5 253.5 365.5 251.5 350.5 229.5 354.5 289.5 393.5 263.5 377.5 269.5 367.5 212.5 406.5 279.5 414.5 282.5 357.5 218.5 377.5 266.5 377.5 330.5 342.5 201.5 355.5 236.5 392.5 256.5 391.5 259.5 357.5 225.5 388.5 273.5 377.5 246.5 389.5 285.5 398.5 283.5 389.5 231.5 360.5 286.5 378.5 260.5 375.5 227.5 362.5 262.5 418.5 257.5 395.5 230.5 360.5 231.5 370.5 227.5 370.5 241.5 382.5 295.5 389.5 279.5 381.5 285.5 383.5 272.5 460.5 243.5 367.5 222.5 370.5 235.5 367.5 285.5 398.5 266.5 323.5 304.5 391.5 262.5 370.5 258.5 370.5 246.5 381.5 269.5 342.5 228.5 370.5 307.5 385.5 226.5 350.5 296.5 379.5 241.5 345.5 239.5 334.5 264.5 350.5 244.5 372.5 321.5 291.5 241.5 343.5 214.5 378.5 283.5 356.5 289.5 350.5 224.5 378.5 304.5 356.5 244.5 375.5 261.5 370.5 212.5 381.5 255.5 322.5 311.5 355.5 218.5 394.5 277.5 366.5 244.5 383.5 268.5 385.5 298.5 399.5 222.5 329.5 271.5 371.5 265.5 351.5 221.5 361.5 259.5 358.5 294.5 353.5 256.5 344.5 294.5 359.5 236.5 380.5 234.5 385.5 336.5 367.5 284.5 352.5 278.5 350.5 258.5 406.5 262.5 356.5 266.5 391.5 271.5 341.5 198.5 382.5 274.5 353.5 211.5 370.5 259.5 358.5 285.5 366.5 241.5 360.5 248.5 388.5 250.5 365.5 253.5 365.5 202.5 378.5 252.5 355.5 244.5 353.5 236.5 365.5 260.5 348.5 235.5 379.5 250.5 381.5 235.5 411.5 271.5 350.5 272.5 371.5 281.5 378.5 255.5 345.5 209.5 364.5 249.5 366.5 224.5 380.5 250.5 370.5 256.5 392.5 268.5 360.5 240.5 344.5 212.5 368.5 296.5 359.5 243.5 353.5 291.5 359.5 241.5 365.5 253.5 388.5 282.5 380.5 289.5 365.5 277.5 354.5 223.5 350.5 236.5 384.5 274.5 336.5 247.5 375.5 228.5 375.5 245.5 366.5 189.5 338.5 276.5 378.5 226.5 362.5 334.5 353.5 209.5 379.5 243.5 361.5 252.5 366.5 257.5 384.5 242.5 349.5 220.5 351.5 284.5 384.5 256.5 370.5 229.5 377.5 211.5 370.5 257.5 396.5 270.5 377.5 271.5 360.5 264.5 370.5 231.5 373.5 229.5 370.5 269.5 347.5 212.5 370.5 268.5 388.5 247.5 365.5 258.5 409.5 300.5 393.5 213.5 370.5 331.5 368.5 291.5 382.5 281.5 359.5 235.5 384.5 274.5 288.5 318.5 352.5 226.5 364.5 253.5 360.5 221.5 377.5 214.5 376.5 334.5 330.5 250.5 397.5 274.5 367.5 264.5 341.5 213.5 344.5 275.5 372.5 249.5 362.5 273.5 349.5 286.5 395.5 266.5 352.5 245.5 370.5 283.5 384.5 253.5 397.5 282.5 356.5 225.5 374.5 243.5 386.5 233.5 365.5 231.5 389.5 269.5 421.5 315.5 343.5 217.5 358.5 188.5 354.5 278.5 387.5 292.5 381.5 223.5 357.5 233.5 389.5 267.5 362.5 215.5 233.5 300.5 373.5 231.5 373.5 272.5 350.5 240.5 364.5 253.5 368.5 289.5 367.5 263.5 382.5 278.5 370.5 334.5 396.5 269.5 398.5 276.5 439.5 263.5 353.5 227.5 398.5 224.5 375.5 233.5 389.5 246.5 373.5 211.5 397.5 276.5 368.5 266.5 381.5 288.5 377.5 315.5 385.5 233.5 371.5 326.5 404.5 239.5 376.5 252.5 372.5 220.5 357.5 279.5 389.5 234.5 377.5 285.5 447.5 283.5 387.5 278.5 352.5 288.5 389.5 272.5 376.5 266.5 387.5 284.5 393.5 263.5 376.5 255.5 383.5 268.5 372.5 256.5 387.5 279.5 362.5 230.5 444.5 329.5 385.5 279.5 377.5 305.5 376.5 251.5 347.5 210.5 386.5 256.5 385.5 225.5 379.5 282.5 368.5 275.5 370.5 294.5 363.5 278.5 379.5 241.5 326.5 323.5 354.5 211.5 315.5 305.5 396.5 282.5 427.5 243.5 395.5 266.5 368.5 275.5 324.5 292.5 369.5 245.5 376.5 284.5 327.5 292.5 393.5 327.5 378.5 254.5 352.5 226.5 342.5 204.5 360.5 276.5 353.5 268.5 351.5 255.5 374.5 262.5 381.5 222.5 347.5 213.5 350.5 247.5 392.5 264.5 370.5 260.5 374.5 253.5 341.5 228.5 370.5 295.5 371.5 254.5 344.5 259.5 361.5 279.5 370.5 247.5 379.5 234.5 375.5 254.5 370.5 224.5 370.5 285.5 375.5 248.5 367.5 247.5 384.5 273.5 366.5 240.5 366.5 256.5 388.5 250.5 376.5 285.5 337.5 258.5 370.5 248.5 397.5 289.5 354.5 261.5 369.5 235.5 393.5 286.5 375.5 265.5 373.5 249.5 395.5 266.5 360.5 253.5 371.5 255.5 369.5 296.5 359.5 285.5 380.5 268.5 314.5 179.5 368.5 276.5 370.5 267.5 370.5 257.5 396.5 326.5 361.5 274.5 370.5 225.5 360.5 271.5 369.5 285.5 399.5 281.5 392.5 251.5 390.5 283.5 359.5 240.5 365.5 257.5 376.5 285.5 335.5 239.5 370.5 220.5 340.5 209.5 393.5 271.5 350.5 210.5 379.5 258.5 342.5 235.5 386.5 247.5 383.5 289.5 361.5 274.5 389.5 282.5 392.5 264.5 353.5 286.5 355.5 283.5 369.5 248.5 373.5 267.5 365.5 233.5 398.5 263.5 356.5 232.5 345.5 241.5 300.5 324.5 384.5 231.5 380.5 221.5 375.5 268.5 388.5 282.5 362.5 336.5 374.5 277.5 404.5 275.5 418.5 291.5 394.5 277.5 370.5 279.5 394.5 223.5 358.5 282.5 338.5 219.5 379.5 257.5 354.5 235.5 353.5 243.5 311.5 256.5 376.5 251.5 378.5 296.5 361.5 242.5 375.5 249.5 370.5 220.5 357.5 209.5 381.5 271.5 380.5 299.5 388.5 259.5 395.5 288.5 374.5 276.5 435.5 268.5 370.5 265.5 351.5 265.5 370.5 199.5 346.5 215.5 334.5 279.5 380.5 279.5 366.5 198.5 370.5 263.5 363.5 259.5 387.5 296.5 370.5 272.5 347.5 289.5 371.5 283.5 348.5 178.5 344.5 287.5 354.5 256.5 331.5 259.5 402.5 284.5 372.5 247.5 383.5 265.5 384.5 240.5 372.5 264.5 437.5 325.5 353.5 234.5 388.5 277.5 433.5 301.5 367.5 233.5 395.5 267.5 378.5 263.5 362.5 275.5 259.5 328.5 342.5 208.5 372.5 275.5 354.5 289.5 380.5 270.5 387.5 295.5 352.5 248.5 408.5 262.5 385.5 232.5 370.5 299.5 369.5 278.5 367.5 267.5 361.5 230.5 373.5 259.5 384.5 295.5 353.5 282.5 357.5 252.5 360.5 279.5 388.5 230.5 380.5 298.5 386.5 260.5 377.5 286.5 381.5 263.5 373.5 317.5 396.5 273.5 397.5 293.5 366.5 195.5 388.5 232.5 334.5 187.5 380.5 260.5 365.5 239.5 354.5 224.5 382.5 248.5 367.5 243.5 378.5 296.5 371.5 227.5 386.5 336.5 440.5 321.5 356.5 240.5 379.5 227.5 382.5 244.5 441.5 317.5 339.5 269.5 387.5 297.5 388.5 313.5 369.5 291.5 375.5 290.5 378.5 245.5 395.5 280.5 370.5 247.5 362.5 264.5 383.5 209.5 361.5 298.5 360.5 237.5 395.5 271.5 379.5 286.5 399.5 270.5 378.5 265.5 349.5 253.5 408.5 251.5 385.5 318.5 384.5 293.5 366.5 261.5 354.5 183.5 328.5 178.5 380.5 241.5 371.5 239.5 365.5 228.5 363.5 234.5 357.5 316.5 352.5 254.5 352.5 223.5 399.5 225.5 415.5 262.5 369.5 311.5 358.5 330.5 354.5 275.5 352.5 235.5 360.5 307.5 384.5 251.5 357.5 233.5 386.5 250.5 391.5 265.5 361.5 264.5 383.5 288.5 351.5 257.5 408.5 283.5 313.5 249.5 352.5 233.5 362.5 240.5 364.5 271.5 370.5 203.5 365.5 295.5 320.5 175.5 377.5 292.5 357.5 234.5 358.5 261.5 404.5 284.5 277.5 329.5 337.5 226.5 390.5 273.5 369.5 291.5 373.5 267.5 387.5 260.5 375.5 234.5 377.5 304.5 348.5 233.5 352.5 245.5 363.5 236.5 370.5 296.5 385.5 293.5 358.5 257.5 366.5 247.5 383.5 236.5 363.5 227.5 368.5 250.5 348.5 219.5 353.5 231.5 370.5 200.5 362.5 257.5 372.5 220.5 392.5 266.5 352.5 282.5 382.5 242.5 353.5 292.5 384.5 291.5 362.5 256.5 348.5 332.5 310.5 206.5 387.5 302.5 396.5 284.5 363.5 237.5 279.5 318.5 370.5 243.5 365.5 287.5 365.5 274.5 371.5 301.5 355.5 261.5 402.5 309.5 382.5 276.5 358.5 234.5 370.5 232.5 306.5 311.5 351.5 203.5 366.5 281.5 388.5 287.5 336.5 326.5 387.5 290.5 370.5 310.5 380.5 241.5 408.5 272.5 350.5 194.5 370.5 269.5 362.5 272.5 384.5 314.5 301.5 213.5 367.5 282.5 349.5 263.5 383.5 283.5 390.5 266.5 314.5 289.5 363.5 285.5 364.5 247.5 384.5 227.5 375.5 240.5 357.5 237.5 372.5 234.5 365.5 326.5 368.5 250.5 372.5 263.5 377.5 267.5 356.5 238.5 360.5 287.5 388.5 236.5 363.5 257.5 378.5 299.5 373.5 258.5 371.5 237.5 356.5 282.5 377.5 237.5 315.5 311.5 354.5 266.5 367.5 227.5 342.5 223.5 370.5 251.5 387.5 230.5 371.5 295.5 395.5 283.5 391.5 273.5 358.5 214.5 375.5 288.5 338.5 335.5 342.5 248.5 357.5 288.5 380.5 279.5 381.5 245.5 363.5 237.5 351.5 214.5 370.5 237.5 376.5 285.5 390.5 293.5 399.5 271.5 357.5 271.5 370.5 255.5 381.5 303.5 357.5 295.5 318.5 251.5 372.5 244.5 390.5 303.5 398.5 289.5 383.5 245.5 370.5 255.5 435.5 293.5 376.5 276.5 357.5 271.5 397.5 250.5 397.5 272.5 370.5 234.5 370.5 294.5 364.5 251.5 358.5 333.5 350.5 268.5 355.5 200.5 361.5 242.5 365.5 251.5 374.5 219.5 409.5 284.5 384.5 290.5 380.5 267.5 382.5 260.5 386.5 272.5 361.5 286.5 396.5 277.5 356.5 280.5 362.5 206.5 357.5 205.5 345.5 245.5 379.5 262.5 395.5 264.5 370.5 232.5 355.5 238.5 370.5 259.5 369.5 287.5 374.5 246.5 390.5 246.5 376.5 273.5 387.5 289.5 350.5 244.5 380.5 230.5 369.5 205.5 307.5 302.5 359.5 267.5 382.5 246.5 389.5 265.5 389.5 331.5 381.5 252.5 357.5 230.5 309.5 298.5 351.5 253.5 367.5 247.5 365.5 305.5 387.5 254.5 364.5 254.5 364.5 251.5 383.5 285.5 461.5 253.5 351.5 249.5 373.5 284.5 405.5 295.5 378.5 225.5 363.5 246.5 365.5 292.5 389.5 236.5 348.5 252.5 380.5 255.5 351.5 268.5 376.5 284.5 344.5 201.5 390.5 267.5 405.5 266.5 349.5 264.5 350.5 259.5 371.5 298.5 390.5 262.5 379.5 260.5 375.5 273.5 352.5 285.5 364.5 244.5 377.5 261.5 333.5 332.5 371.5 297.5 389.5 225.5 370.5 252.5 389.5 261.5 384.5 220.5 365.5 280.5 361.5 226.5 427.5 313.5 336.5 258.5 363.5 263.5 383.5 243.5 385.5 282.5 377.5 277.5 375.5 248.5 370.5 222.5 339.5 230.5 361.5 232.5 362.5 262.5 340.5 220.5 357.5 247.5 400.5 268.5 382.5 259.5 410.5 293.5 370.5 288.5 357.5 230.5 350.5 239.5 364.5 291.5 371.5 258.5 378.5 290.5 380.5 218.5 355.5 190.5 392.5 295.5 388.5 303.5 374.5 273.5 387.5 271.5 350.5 243.5 404.5 249.5 342.5 266.5 374.5 283.5 383.5 284.5 371.5 297.5 352.5 291.5 374.5 262.5 365.5 241.5 345.5 253.5 368.5 216.5 371.5 222.5 383.5 273.5 371.5 231.5 365.5 307.5 370.5 286.5 363.5 213.5 383.5 271.5 354.5 246.5 359.5 244.5 381.5 319.5 331.5 217.5 371.5 281.5 405.5 266.5 384.5 274.5 366.5 276.5 368.5 289.5 385.5 287.5 322.5 285.5 370.5 238.5 369.5 249.5 331.5 265.5 360.5 230.5 398.5 260.5 368.5 280.5 366.5 222.5 393.5 329.5 362.5 246.5 351.5 242.5 385.5 241.5 371.5 269.5 365.5 297.5 389.5 269.5 388.5 257.5 388.5 306.5 382.5 212.5 370.5 260.5 390.5 282.5 359.5 212.5 343.5 327.5 357.5 248.5 370.5 246.5 365.5 255.5 387.5 244.5 367.5 228.5 363.5 322.5 357.5 262.5 370.5 220.5 379.5 233.5 351.5 285.5 393.5 248.5 364.5 302.5 376.5 252.5 370.5 275.5 345.5 215.5 372.5 225.5 319.5 326.5 366.5 283.5 364.5 275.5 353.5 242.5 368.5 301.5 351.5 234.5 353.5 281.5 393.5 250.5 388.5 265.5 344.5 245.5 240.5 330.5 353.5 211.5 361.5 222.5 380.5 247.5 383.5 234.5 370.5 230.5 357.5 249.5 385.5 277.5 371.5 261.5 376.5 233.5 361.5 230.5 349.5 206.5 318.5 222.5 353.5 214.5 398.5 288.5 370.5 240.5 365.5 244.5 398.5 238.5 370.5 307.5 395.5 286.5 407.5 282.5 366.5 285.5 361.5 220.5 350.5 315.5 353.5 240.5 326.5 247.5 346.5 267.5 378.5 303.5 307.5 283.5 386.5 293.5 350.5 234.5 355.5 210.5 353.5 246.5 370.5 249.5 344.5 222.5 377.5 284.5 395.5 284.5 351.5 229.5 370.5 249.5 370.5 238.5 377.5 275.5 365.5 279.5 355.5 203.5 399.5 273.5 362.5 230.5 371.5 262.5 354.5 260.5 370.5 224.5 383.5 253.5 380.5 257.5 349.5 254.5 384.5 273.5 357.5 270.5 370.5 314.5 341.5 201.5 386.5 236.5 349.5 276.5 361.5 251.5 380.5 321.5 367.5 267.5 375.5 229.5 359.5 283.5 366.5 241.5 382.5 256.5 377.5 245.5 360.5 219.5 395.5 240.5 338.5 256.5 372.5 203.5 356.5 214.5 374.5 224.5 386.5 253.5 396.5 276.5 378.5 226.5 357.5 238.5 376.5 255.5 370.5 223.5 362.5 251.5 355.5 243.5 358.5 218.5 356.5 221.5 370.5 255.5 383.5 280.5 370.5 239.5 388.5 280.5 363.5 262.5 356.5 230.5 370.5 297.5 349.5 190.5 336.5 248.5 386.5 298.5 378.5 258.5 367.5 273.5 376.5 274.5 347.5 227.5 288.5 323.5 344.5 248.5 341.5 227.5 371.5 243.5 370.5 299.5 350.5 220.5 378.5 278.5 384.5 263.5 387.5 285.5 367.5 234.5 339.5 283.5 362.5 254.5 365.5 280.5 374.5 296.5 394.5 265.5 354.5 291.5 431.5 267.5 369.5 263.5 390.5 282.5 376.5 276.5 361.5 253.5 395.5 278.5 370.5 304.5 352.5 271.5 353.5 266.5 378.5 274.5 381.5 220.5 396.5 271.5 395.5 301.5 370.5 269.5 370.5 220.5 384.5 285.5 388.5 254.5 358.5 252.5 354.5 264.5 345.5 207.5 382.5 241.5 348.5 253.5 367.5 292.5 358.5 255.5 391.5 266.5 369.5 247.5 399.5 278.5 387.5 302.5 355.5 251.5 377.5 240.5 384.5 241.5 365.5 262.5 370.5 232.5 374.5 244.5 371.5 236.5 363.5 264.5 322.5 254.5 387.5 240.5 359.5 262.5 370.5 335.5 362.5 247.5 371.5 314.5 360.5 289.5 377.5 299.5 357.5 241.5 380.5 241.5 375.5 233.5 358.5 248.5 346.5 247.5 351.5 284.5 414.5 269.5 364.5 238.5 356.5 249.5 393.5 275.5 357.5 243.5 356.5 273.5 368.5 305.5 323.5 298.5 384.5 244.5 367.5 297.5 355.5 257.5 345.5 212.5 345.5 251.5 290.5 294.5 357.5 287.5 342.5 264.5 370.5 289.5 362.5 244.5 403.5 309.5 366.5 295.5 371.5 283.5 365.5 241.5 372.5 208.5 358.5 265.5 369.5 239.5 358.5 247.5 372.5 230.5 364.5 234.5 356.5 217.5 357.5 226.5 381.5 238.5 354.5 270.5 334.5 264.5 354.5 256.5 357.5 251.5 368.5 260.5 352.5 267.5 340.5 284.5 349.5 257.5 351.5 269.5 399.5 268.5 370.5 230.5 372.5 289.5 378.5 232.5 367.5 318.5 344.5 218.5 364.5 239.5 363.5 263.5 377.5 253.5 439.5 279.5 387.5 243.5 380.5 249.5 355.5 237.5 358.5 208.5 370.5 244.5 354.5 231.5 399.5 281.5 359.5 274.5 373.5 265.5 353.5 246.5 384.5 248.5 358.5 248.5 371.5 248.5 360.5 293.5 368.5 212.5 379.5 221.5 337.5 232.5 352.5 245.5 364.5 254.5 350.5 204.5 370.5 252.5 381.5 270.5 390.5 278.5 362.5 242.5 382.5 245.5 356.5 225.5 391.5 274.5 367.5 236.5 378.5 236.5 362.5 263.5 370.5 281.5 387.5 234.5 376.5 277.5 283.5 235.5 396.5 287.5 397.5 236.5 377.5 286.5 386.5 220.5 367.5 276.5 393.5 257.5 373.5 222.5 383.5 245.5 380.5 270.5 381.5 286.5 394.5 240.5 376.5 272.5 368.5 260.5 375.5 299.5 356.5 245.5 384.5 251.5 380.5 285.5 355.5 241.5 370.5 211.5 358.5 231.5 350.5 281.5 370.5 231.5 379.5 279.5 402.5 279.5 383.5 268.5 369.5 231.5 374.5 226.5 431.5 301.5 374.5 287.5 372.5 234.5 345.5 248.5 372.5 241.5 356.5 234.5 373.5 298.5 354.5 267.5 367.5 232.5 386.5 304.5 379.5 254.5 396.5 265.5 352.5 242.5 395.5 296.5 366.5 227.5 399.5 318.5 422.5 315.5 383.5 272.5 353.5 246.5 362.5 313.5 357.5 231.5 370.5 262.5 379.5 277.5 405.5 313.5 381.5 269.5 375.5 242.5 372.5 235.5 393.5 275.5 365.5 236.5 359.5 272.5 363.5 258.5 377.5 301.5 379.5 203.5 368.5 268.5 370.5 298.5 373.5 272.5 390.5 281.5 370.5 274.5 341.5 216.5 370.5 295.5 379.5 240.5 370.5 263.5 370.5 202.5 352.5 328.5 411.5 291.5 372.5 284.5 371.5 218.5 373.5 225.5 357.5 195.5 355.5 248.5 388.5 296.5 354.5 210.5 399.5 236.5 368.5 222.5 362.5 278.5 388.5 230.5 362.5 242.5 353.5 272.5 379.5 227.5 380.5 243.5 357.5 238.5 354.5 245.5 384.5 251.5 358.5 261.5 357.5 235.5 360.5 223.5 373.5 273.5 374.5 229.5 383.5 287.5 388.5 263.5 361.5 244.5 385.5 295.5 369.5 231.5 362.5 298.5 374.5 232.5 385.5 251.5 258.5 328.5 418.5 273.5 370.5 220.5 360.5 282.5 444.5 323.5 368.5 237.5 377.5 291.5 432.5 276.5 356.5 238.5 388.5 253.5 359.5 293.5 388.5 292.5 387.5 305.5 386.5 228.5 373.5 274.5 397.5 269.5 364.5 294.5 377.5 236.5 412.5 242.5 366.5 288.5 379.5 271.5 375.5 213.5 370.5 235.5 377.5 271.5 399.5 278.5 385.5 250.5 347.5 264.5 368.5 215.5 372.5 218.5 439.5 299.5 391.5 262.5 355.5 284.5 372.5 272.5 385.5 280.5 344.5 317.5 370.5 239.5 374.5 277.5 335.5 257.5 340.5 255.5 417.5 329.5 359.5 241.5 363.5 240.5 359.5 253.5 351.5 271.5 371.5 288.5 363.5 250.5 356.5 223.5 347.5 274.5 370.5 242.5 364.5 257.5 350.5 245.5 358.5 282.5 363.5 204.5 364.5 326.5 389.5 290.5 394.5 272.5 397.5 285.5 374.5 290.5 317.5 173.5 366.5 221.5 406.5 331.5 368.5 256.5 361.5 272.5 370.5 273.5 404.5 295.5 369.5 270.5 320.5 267.5 374.5 285.5 377.5 224.5 338.5 188.5 387.5 260.5 389.5 260.5 360.5 258.5 355.5 260.5 344.5 273.5 373.5 242.5 388.5 261.5 365.5 298.5 334.5 299.5 377.5 284.5 390.5 261.5 370.5 279.5 396.5 254.5 348.5 246.5 370.5 263.5 380.5 201.5 362.5 250.5 394.5 270.5 350.5 277.5 389.5 266.5 428.5 253.5 388.5 259.5 372.5 263.5 343.5 207.5 379.5 224.5 419.5 278.5 370.5 262.5 370.5 258.5 364.5 280.5 367.5 242.5 370.5 280.5 395.5 281.5 379.5 203.5 357.5 228.5 359.5 236.5 365.5 323.5 372.5 263.5 374.5 288.5 352.5 241.5 334.5 220.5 397.5 234.5 399.5 252.5 362.5 296.5 370.5 236.5 356.5 288.5 370.5 263.5 389.5 249.5 366.5 271.5 408.5 289.5 373.5 230.5 368.5 263.5 367.5 286.5 361.5 267.5 437.5 309.5 394.5 283.5 367.5 234.5 387.5 253.5 385.5 284.5 370.5 243.5 393.5 253.5 363.5 269.5 377.5 268.5 389.5 264.5 396.5 253.5 390.5 253.5 360.5 282.5 446.5 319.5 384.5 249.5 375.5 250.5 398.5 260.5 351.5 241.5 370.5 226.5 380.5 221.5 443.5 311.5 389.5 281.5 419.5 294.5 352.5 275.5 350.5 252.5 356.5 248.5 354.5 266.5 352.5 249.5 357.5 210.5 385.5 243.5 387.5 279.5 366.5 330.5 360.5 262.5 364.5 271.5 350.5 212.5 356.5 265.5 377.5 286.5 379.5 242.5 353.5 227.5 361.5 220.5 367.5 222.5 390.5 256.5 394.5 278.5 397.5 282.5 340.5 171.5 358.5 254.5 360.5 295.5 353.5 244.5 399.5 296.5 394.5 267.5 399.5 307.5 374.5 211.5 367.5 279.5 366.5 232.5 362.5 272.5 359.5 252.5 370.5 275.5 373.5 260.5 366.5 282.5 382.5 244.5 363.5 228.5 352.5 232.5 359.5 231.5 461.5 287.5 364.5 320.5 351.5 276.5 379.5 286.5 383.5 263.5 362.5 255.5 396.5 293.5 335.5 280.5 377.5 288.5 379.5 252.5 370.5 274.5 386.5 261.5 324.5 314.5 364.5 242.5 422.5 321.5 360.5 273.5 363.5 278.5 399.5 272.5 353.5 274.5 352.5 295.5 370.5 236.5 392.5 288.5 341.5 215.5 398.5 262.5 408.5 262.5 381.5 273.5 384.5 265.5 367.5 287.5 387.5 243.5 395.5 268.5 375.5 239.5 394.5 270.5 362.5 252.5 350.5 212.5 380.5 279.5 381.5 257.5 366.5 225.5 361.5 275.5 357.5 285.5 371.5 273.5 397.5 259.5 385.5 265.5 369.5 236.5 424.5 302.5 364.5 249.5 390.5 285.5 390.5 281.5 372.5 254.5 372.5 270.5 405.5 296.5 341.5 269.5 358.5 216.5 380.5 230.5 372.5 256.5 335.5 219.5 370.5 250.5 338.5 246.5 386.5 262.5 384.5 236.5 371.5 287.5 360.5 295.5 405.5 318.5 367.5 246.5 386.5 246.5 340.5 215.5 360.5 230.5 370.5 238.5 370.5 224.5 365.5 263.5 265.5 329.5 382.5 281.5 373.5 276.5 378.5 266.5 360.5 242.5 375.5 292.5 399.5 280.5 389.5 293.5 371.5 236.5 355.5 207.5 370.5 236.5 418.5 273.5 388.5 240.5 415.5 268.5 361.5 244.5 410.5 272.5 352.5 272.5 350.5 265.5 359.5 254.5 373.5 235.5 396.5 269.5 371.5 239.5 388.5 265.5 379.5 275.5 370.5 241.5 356.5 240.5 378.5 301.5 393.5 289.5 301.5 269.5 391.5 305.5 380.5 290.5 352.5 249.5 408.5 260.5 369.5 245.5 327.5 254.5 367.5 242.5 370.5 217.5 386.5 263.5 343.5 212.5 358.5 233.5 388.5 232.5 368.5 251.5 384.5 253.5 321.5 291.5 334.5 223.5 390.5 284.5 352.5 225.5 365.5 279.5 361.5 273.5 388.5 268.5 370.5 262.5 388.5 261.5 409.5 224.5 369.5 225.5 379.5 242.5 352.5 309.5 374.5 250.5 379.5 287.5 363.5 285.5 387.5 259.5 361.5 314.5 370.5 266.5 397.5 278.5 355.5 330.5 384.5 267.5 384.5 234.5 391.5 280.5 370.5 217.5 388.5 277.5 399.5 253.5 360.5 262.5 355.5 239.5 367.5 229.5 349.5 232.5 359.5 262.5 387.5 283.5 360.5 236.5 331.5 299.5 375.5 295.5 387.5 275.5 387.5 216.5 372.5 282.5 376.5 265.5 386.5 272.5 398.5 282.5 370.5 328.5 380.5 298.5 375.5 324.5 373.5 232.5 363.5 237.5 383.5 297.5 361.5 289.5 391.5 265.5 359.5 244.5 370.5 237.5 381.5 225.5 398.5 266.5 388.5 243.5 360.5 295.5 385.5 255.5 378.5 272.5 384.5 245.5 360.5 268.5 395.5 218.5 368.5 291.5 375.5 256.5 383.5 240.5 351.5 233.5 371.5 249.5 341.5 203.5 395.5 301.5 382.5 280.5 356.5 234.5 390.5 260.5 370.5 278.5 412.5 285.5 397.5 261.5 374.5 255.5 396.5 263.5 370.5 295.5 357.5 229.5 369.5 286.5 370.5 224.5 375.5 275.5 366.5 299.5 370.5 261.5 347.5 319.5 332.5 267.5 353.5 237.5 378.5 230.5 379.5 244.5 376.5 279.5 374.5 231.5 358.5 221.5 389.5 251.5 388.5 255.5 399.5 269.5 367.5 264.5 353.5 218.5 386.5 252.5 328.5 273.5 375.5 224.5 360.5 255.5 371.5 327.5 353.5 285.5 381.5 287.5 370.5 238.5 388.5 262.5 337.5 259.5 357.5 204.5 385.5 296.5 353.5 203.5 371.5 264.5 387.5 224.5 397.5 270.5 349.5 233.5 367.5 291.5 346.5 190.5 399.5 287.5 376.5 257.5 384.5 233.5 343.5 289.5 367.5 286.5 361.5 283.5 408.5 258.5 371.5 258.5 388.5 248.5 361.5 212.5 354.5 236.5 372.5 254.5 380.5 233.5 379.5 257.5 410.5 315.5 374.5 217.5 398.5 260.5 347.5 207.5 393.5 276.5 365.5 273.5 382.5 266.5 362.5 258.5 371.5 278.5 432.5 315.5 326.5 200.5 336.5 271.5 356.5 286.5 361.5 289.5 425.5 305.5 363.5 296.5 345.5 204.5 374.5 260.5 387.5 259.5 370.5 245.5 399.5 298.5 376.5 267.5 387.5 278.5 397.5 294.5 378.5 236.5 399.5 293.5 378.5 268.5 376.5 281.5 370.5 283.5 385.5 238.5 383.5 238.5 366.5 289.5 350.5 231.5 360.5 224.5 378.5 336.5 354.5 241.5 441.5 279.5 388.5 255.5 353.5 222.5 393.5 311.5 382.5 270.5 370.5 289.5 356.5 235.5 375.5 271.5 364.5 230.5 370.5 216.5 367.5 261.5 385.5 224.5 382.5 262.5 362.5 263.5 344.5 282.5 370.5 216.5 401.5 305.5 381.5 305.5 389.5 273.5 352.5 256.5 356.5 239.5 361.5 231.5 373.5 226.5 379.5 278.5 388.5 234.5 358.5 260.5 374.5 225.5 387.5 206.5 393.5 282.5 368.5 219.5 387.5 292.5 372.5 225.5 371.5 283.5 339.5 281.5 370.5 273.5 370.5 213.5 386.5 264.5 319.5 251.5 377.5 263.5 364.5 232.5 401.5 250.5 353.5 232.5 372.5 226.5 398.5 268.5 439.5 324.5 351.5 246.5 341.5 195.5 373.5 284.5 370.5 283.5 339.5 245.5 362.5 250.5 395.5 288.5 385.5 275.5 370.5 254.5 353.5 206.5 376.5 271.5 409.5 277.5 377.5 293.5 388.5 272.5 383.5 268.5 342.5 251.5 398.5 297.5 391.5 315.5 356.5 224.5 362.5 236.5 384.5 317.5 353.5 227.5 364.5 288.5 371.5 220.5 344.5 257.5 353.5 303.5 369.5 230.5 439.5 266.5 362.5 253.5 418.5 318.5 357.5 191.5 374.5 255.5 373.5 292.5 398.5 259.5 386.5 282.5 381.5 291.5 396.5 266.5 370.5 238.5 329.5 298.5 400.5 268.5 359.5 246.5 392.5 267.5 370.5 264.5 373.5 251.5 363.5 228.5 371.5 286.5 362.5 256.5 356.5 211.5 387.5 266.5 357.5 223.5 387.5 231.5 374.5 239.5 377.5 261.5 317.5 312.5 370.5 278.5 370.5 225.5 382.5 288.5 364.5 269.5 361.5 227.5 351.5 257.5 387.5 287.5 375.5 254.5 379.5 221.5 403.5 269.5 366.5 260.5 359.5 255.5 359.5 203.5 373.5 293.5 338.5 239.5 365.5 215.5 370.5 250.5 374.5 302.5 368.5 194.5 378.5 296.5 389.5 240.5 401.5 270.5 398.5 265.5 350.5 236.5 356.5 256.5 358.5 253.5 367.5 267.5 362.5 223.5 370.5 288.5 359.5 278.5 389.5 212.5 366.5 249.5 344.5 265.5 353.5 246.5 370.5 257.5 360.5 239.5 353.5 232.5 358.5 284.5 349.5 249.5 363.5 335.5 430.5 326.5 350.5 224.5 377.5 248.5 349.5 200.5 370.5 269.5 393.5 227.5 395.5 275.5 357.5 282.5 267.5 287.5 354.5 275.5 384.5 259.5 378.5 227.5 383.5 283.5 371.5 290.5 354.5 236.5 382.5 274.5 431.5 319.5 353.5 239.5 386.5 217.5" fill="none" stroke="none" marker-start="url(#mb)" marker-mid="url(#mb)" marker-end="url(#mb)"/><rect x="370" y="31" width="1" height="319" fill="#5b6414"/>
<g font-family="DejaVu Sans, sans-serif" font-size="11" fill="#5f6a17">
<text x="362" y="34" text-anchor="end">53</text><text x="362" y="63" text-anchor="end">48</text><text x="362" y="92" text-anchor="end">43</text><text x="362" y="121" text-anchor="end">38</text><text x="362" y="150" text-anchor="end">33</text><text x="362" y="179" text-anchor="end">28</text><text x="362" y="209" text-anchor="end">23</text><text x="362" y="238" text-anchor="end">18</text><text x="362" y="267" text-anchor="end">13</text><text x="362" y="296" text-anchor="end">8</text><text x="362" y="325" text-anchor="end">3</text><text x="362" y="354" text-anchor="end">3</text>
<text x="49.5" y="368" text-anchor="middle">-40</text><text x="89.5" y="368" text-anchor="middle">-35</text><text x="129.5" y="368" text-anchor="middle">-30</text><text x="169.5" y="368" text-anchor="middle">-25</text><text x="209.5" y="368" text-anchor="middle">-20</text><text x="249.5" y="368" text-anchor="middle">-15</text><text x="289.5" y="368" text-anchor="middle">-10</text><text x="329.5" y="368" text-anchor="middle">-5</text><text x="369.5" y="368" text-anchor="middle">0</text><text x="409.5" y="368" text-anchor="middle">5</text><text x="449.5" y="368" text-anchor="middle">10</text><text x="489.5" y="368" text-anchor="middle">15</text><text x="529.5" y="368" text-anchor="middle">20</text><text x="569.5" y="368" text-anchor="middle">25</text><text x="609.5" y="368" text-anchor="middle">30</text><text x="649.5" y="368" text-anchor="middle">35</text><text x="689.5" y="368" text-anchor="middle">40</text>
<text x="690" y="385" text-anchor="end">Pente [%]</text>
</g>
<text x="360" y="14" text-anchor="middle" font-family="DejaVu Sans, sans-serif" font-size="13" fill="#5f6a17">VITESSE vs PENTE</text>
<rect x="50.5" y="30.5" width="640" height="320" fill="none" stroke="#d6d6dd" stroke-width="1"/>
</svg>
</body></html>
